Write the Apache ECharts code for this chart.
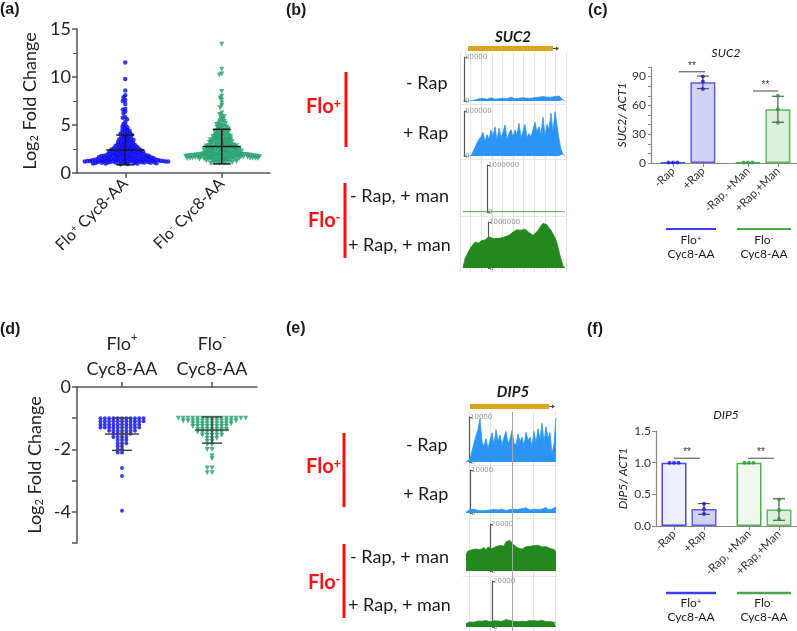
<!DOCTYPE html>
<html>
<head>
<meta charset="utf-8">
<script src="https://cdn.jsdelivr.net/npm/echarts@6.0.0/dist/echarts.min.js"></script>
<style>
  html, body { margin: 0; padding: 0; background: #fff; }
  #chart { width: 797px; height: 631px; }
</style>
</head>
<body>
<div id="chart"></div>
<script>
  // ---- data ----
  const strainNames = ['Flo+ Cyc8-AA', 'Flo- Cyc8-AA'];

  // (a) up-regulated genes, log2 fold change
  const upFloPlus = [0.92,0.95,0.98,1.0,1.0,1.02,1.03,1.05,1.05,1.07,1.08,1.1,1.1,1.11,1.12,1.13,1.15,1.15,1.16,1.18,1.18,1.2,1.2,1.21,1.22,1.23,1.25,1.25,1.26,1.27,1.28,1.3,1.3,1.31,1.32,1.33,1.34,1.35,1.36,1.37,1.38,1.39,1.4,1.4,1.41,1.42,1.43,1.44,1.45,1.46,1.47,1.48,1.49,1.5,1.1,1.2,1.3,1.15,1.25,1.35,
    1.52,1.54,1.55,1.57,1.58,1.6,1.61,1.63,1.65,1.66,1.68,1.7,1.71,1.73,1.75,1.76,1.78,1.8,1.81,1.83,1.85,1.86,1.88,1.9,1.91,1.93,1.95,1.96,1.98,2.0,1.6,1.7,1.8,1.9,1.65,
    2.02,2.04,2.06,2.08,2.1,2.12,2.14,2.16,2.18,2.2,2.22,2.24,2.26,2.28,2.3,2.32,2.34,2.36,2.38,2.4,2.42,2.44,2.46,2.48,2.5,
    2.53,2.56,2.59,2.62,2.65,2.68,2.71,2.74,2.77,2.8,2.83,2.86,2.89,2.92,2.95,2.98,2.6,
    3.03,3.07,3.11,3.15,3.2,3.24,3.28,3.32,3.37,3.41,3.45,3.49,
    3.53,3.58,3.63,3.68,3.74,3.8,3.86,3.92,3.98,
    4.03,4.08,4.14,4.2,4.27,4.34,4.41,4.48,
    4.55,4.65,4.75,4.85,4.95,
    5.1,5.3,5.6,5.75,5.8,6.2,6.4,6.6,6.7,7.2,7.5,7.6,7.9,8.1,8.6,9.8,11.5];
  const upFloMinus = [1.0,1.02,1.05,1.08,1.1,1.12,1.15,1.18,1.2,1.22,1.25,1.27,1.3,1.32,1.34,1.36,1.38,1.4,1.42,1.44,1.45,1.46,1.47,1.48,1.49,
    1.5,1.51,1.52,1.53,1.54,1.55,1.56,1.57,1.58,1.59,1.6,1.61,1.62,1.63,1.64,1.65,1.66,1.67,1.68,1.69,1.7,1.71,1.72,1.73,1.74,1.75,1.76,1.77,1.78,1.79,1.8,1.81,1.82,1.83,1.84,1.85,1.86,1.87,1.88,1.89,1.9,1.91,1.92,1.93,1.94,1.95,1.96,1.97,1.98,1.99,1.55,1.65,1.75,1.85,1.95,
    2.02,2.04,2.05,2.07,2.09,2.11,2.13,2.15,2.17,2.19,2.2,2.22,2.24,2.26,2.28,2.3,2.32,2.34,2.35,2.37,2.39,2.41,2.43,2.44,2.46,2.47,2.49,2.5,
    2.52,2.55,2.57,2.6,2.62,2.64,2.66,2.68,2.7,2.72,2.75,2.77,2.8,2.82,2.84,2.86,2.88,2.9,2.92,2.94,2.96,2.99,
    3.02,3.05,3.08,3.11,3.14,3.17,3.2,3.23,3.26,3.29,3.32,3.35,3.38,3.41,3.44,3.46,3.48,3.5,
    3.54,3.58,3.61,3.65,3.68,3.72,3.75,3.79,3.82,3.86,3.89,3.93,3.96,3.99,
    4.04,4.09,4.14,4.19,4.24,4.29,4.34,4.39,4.44,4.49,
    4.55,4.61,4.67,4.73,4.79,4.85,4.91,4.97,
    5.05,5.12,5.2,5.28,5.36,5.45,5.6,5.7,5.85,5.95,6.1,6.25,
    6.8,7.0,7.3,7.6,7.8,8.0,8.5,10.2,10.3,10.8,13.4];
  const upMean = [2.4, 2.75];
  const upSd = [1.55, 1.8];

  // (d) down-regulated genes
  const downFloPlus = [-1,-1,-1,-1,-1,-1,-1,-1,-1,-1,-1,
    -1.1,-1.1,-1.1,-1.1,-1.1,-1.1,-1.1,-1.1,-1.1,-1.1,-1.1,
    -1.2,-1.2,-1.2,-1.2,-1.2,-1.2,-1.2,-1.2,-1.2,-1.2,
    -1.3,-1.3,-1.3,-1.3,-1.3,-1.3,-1.3,-1.3,-1.3,-1.3,
    -1.4,-1.4,-1.4,-1.4,-1.4,-1.4,-1.4,
    -1.5,-1.5,-1.5,-1.5,-1.5,-1.6,-1.6,-1.6,-1.6,-1.7,-1.7,-1.7,-1.8,-1.8,-1.8,
    -1.9,-1.9,-2.0,-2.0,-2.1,-2.1,-2.6,-2.85,-3.97];
  const downFloMinus = [-1,-1,-1,-1,-1,-1,-1,-1,-1,-1,-1,-1,-1,-1,-1,
    -1.09,-1.09,-1.09,-1.09,-1.09,-1.09,-1.09,-1.09,-1.09,-1.09,-1.09,-1.09,
    -1.18,-1.18,-1.18,-1.18,-1.18,-1.18,-1.18,-1.18,-1.18,
    -1.27,-1.27,-1.27,-1.27,-1.27,-1.27,-1.27,-1.27,
    -1.36,-1.36,-1.36,-1.36,-1.36,-1.36,-1.36,
    -1.45,-1.45,-1.45,-1.45,-1.45,-1.45,-1.55,-1.55,-1.55,-1.55,-1.55,
    -1.65,-1.65,-1.65,-1.75,-1.75,-1.85,-1.85,-2.0,-2.0,-2.2,-2.3,-2.6,-2.6,-2.75,-2.75];
  const downMean = [-1.51, -1.38];
  const downSd = [0.52, 0.42];

  // (b) SUC2 coverage tracks, thousands of reads, 2 px bins
  const sucRap0 = [0,0,0,0,0,1,2,3,4,3,5,4,3,5,6,4,3,5,4,6,5,3,4,5,7,5,4,6,5,4,6,7,5,6,5,7,6,5,7,6,8,6,7,9,7,6,8,10,9,6,2,0];
  const sucRap1 = [0,0,0,0,0,0,150,230,300,340,420,260,380,300,460,350,520,280,490,330,420,550,300,400,470,330,460,380,580,320,440,560,330,400,340,470,600,430,520,380,690,350,560,480,760,420,790,780,300,120,30,0];
  const sucManRap0 = [3,4,4,3,4,4,3,4,4,3,4,4,3,4,4,3,4,4,3,4,4,3,4,4,3,4,4,3,4,4,3,4,4,3,4,4,3,4,4,3,4,4,3,4,4,3,4,4,3,4,4,3];
  const sucManRap1 = [0,200,290,380,450,510,560,550,540,590,600,610,650,680,650,640,660,640,630,650,660,680,680,710,740,780,800,830,840,820,830,840,800,770,730,710,740,790,850,920,970,990,940,870,820,740,660,540,360,190,50,0];
  const sucScales = [80, 800, 1000, 1000];

  // (e) DIP5 coverage tracks, thousands of reads
  const dipRap0 = [0,0.1,0.6,2.5,4.2,5.8,7.2,9.6,4.5,3.5,5.2,3.0,4.8,6.5,3.8,7.2,4.5,6.0,3.8,5.5,6.8,4.0,5.2,7.0,4.3,3.8,6.2,4.5,5.5,3.6,6.6,4.8,5.5,3.5,6.8,4.2,7.4,5.0,8.6,4.5,7.8,5.2,6.5,1.8,4.0,9.8];
  const dipRap1 = [0.2,0.4,0.8,1.1,0.9,0.5,0.6,0.7,0.5,0.8,0.6,0.9,0.7,0.5,0.8,1.0,0.7,0.6,0.9,0.8,0.6,1.0,0.8,0.7,0.9,1.1,0.8,0.7,1.0,0.9,1.2,0.8,0.7,1.0,0.9,1.1,0.8,1.2,0.9,1.0,1.3,0.8,1.1,0.9,0.7,1.4];
  const dipManRap0 = [7.0,8.5,9.2,9.0,8.8,9.4,8.7,9.0,9.3,10.0,9.0,10.2,11.0,9.5,9.8,10.4,9.6,10.8,11.4,10.6,12.5,12.0,13.0,12.4,11.0,10.2,9.8,9.0,9.3,9.8,10.3,10.0,10.5,10.2,10.8,10.4,11.0,10.6,10.2,10.8,10.4,10.0,9.6,9.8,9.2,8.0];
  const dipManRap1 = [1.5,2.0,2.2,2.4,2.1,2.3,2.6,2.2,2.5,2.4,2.8,2.6,2.3,2.5,2.7,2.4,2.6,2.9,2.5,2.7,3.2,3.0,2.8,2.6,2.5,2.4,2.3,2.6,2.5,2.7,2.4,2.6,2.8,2.5,2.7,2.4,2.6,2.5,2.8,2.6,2.4,2.5,2.3,2.2,2.1,1.8];
  const dipScales = [10, 10, 20, 20];

  // (c) / (f) qPCR
  const qpcrLabels = ['-Rap', '+Rap', '-Rap, +Man', '+Rap,+Man'];
  const qpcrPos = [1, 2, 3.5, 4.5];
  const suc2Mean = [0.6, 84, 0.6, 56];
  const suc2Sd = [0, 6.5, 0, 13.5];
  const suc2Reps = [[0.6, 0.6, 0.6], [77, 85, 90], [0.6, 0.6, 0.6], [42, 56, 70]];
  const suc2Sig = [[1.2, 2.07, 95], [3.67, 4.5, 75]];
  const dip5Mean = [1.0, 0.27, 1.0, 0.26];
  const dip5Sd = [0, 0.085, 0, 0.17];
  const dip5Reps = [[1, 1, 1], [0.35, 0.27, 0.19], [1, 1, 1], [0.42, 0.25, 0.11]];
  const dip5Sig = [[1.0, 1.87, 1.07], [3.47, 4.33, 1.07]];

  // ---- helpers ----
  const FONT = 'Lato, "Open Sans", sans-serif';
  const BLUE = '#0b0bf2';
  const GREEN = '#1f9e6c';
  const TRACK_BLUE = '#2b94f5';
  const TRACK_GREEN = '#23891f';
  const AXIS = '#555';

  // simple beeswarm: x offsets in px for each value
  function swarm(values, pxPerUnit, diam) {
    const order = values.map((v, i) => i).sort((a, b) => values[b] - values[a]);
    const placed = [];
    const offs = new Array(values.length);
    order.forEach(i => {
      const y = values[i] * pxPerUnit;
      const blocks = [];
      placed.forEach(p => {
        const dy = Math.abs(p.y - y);
        if (dy < diam) {
          const w = Math.sqrt(diam * diam - dy * dy);
          blocks.push([p.x - w, p.x + w]);
        }
      });
      const cands = [0];
      blocks.forEach(b => cands.push(b[0], b[1]));
      cands.sort((a, b) => Math.abs(a) - Math.abs(b));
      let x = 0;
      for (const c of cands) {
        if (blocks.every(b => c <= b[0] + 1e-6 || c >= b[1] - 1e-6)) { x = c; break; }
      }
      placed.push({ x, y });
      offs[i] = x;
    });
    return offs;
  }

  const supFmt = v => v.replace(/^Flo([+-])/, 'Flo{sup|$1}');

  function meanSd(halfMean, halfCap, color, width) {
    return (params, api) => {
      const x = api.value(0), m = api.value(1), s = api.value(2);
      const c = api.coord([x, m]);
      const top = api.coord([x, m + s]);
      const bot = api.coord([x, m - s]);
      const st = { stroke: color, lineWidth: width };
      const kids = [
        { type: 'line', shape: { x1: c[0], y1: top[1], x2: c[0], y2: bot[1] }, style: st },
        { type: 'line', shape: { x1: c[0] - halfCap, y1: top[1], x2: c[0] + halfCap, y2: top[1] }, style: st },
        { type: 'line', shape: { x1: c[0] - halfCap, y1: bot[1], x2: c[0] + halfCap, y2: bot[1] }, style: st }
      ];
      if (halfMean > 0) kids.push({ type: 'line', shape: { x1: c[0] - halfMean, y1: c[1], x2: c[0] + halfMean, y2: c[1] }, style: st });
      return { type: 'group', children: s > 0 || halfMean > 0 ? kids : [] };
    };
  }

  function sigItem(params, api) {
    const a = api.coord([api.value(0), api.value(2)]);
    const b = api.coord([api.value(1), api.value(2)]);
    return { type: 'group', children: [
      { type: 'line', shape: { x1: a[0], y1: a[1], x2: b[0], y2: b[1] }, style: { stroke: '#444', lineWidth: 1 } },
      { type: 'text', x: (a[0] + b[0]) / 2, y: a[1] - 1, style: { text: '**', fontSize: 10, fill: '#333', align: 'center', verticalAlign: 'bottom', font: '10px ' + FONT } }
    ] };
  }

  // ---- layout of grids ----
  const grids = [
    { left: 77, top: 29, width: 193, height: 144 },   // 0 a
    { left: 77, top: 387, width: 180, height: 156 },  // 1 d
    { left: 651, top: 67, width: 147, height: 96 },   // 2 c
    { left: 656, top: 431, width: 141, height: 95 },  // 3 f
    { left: 463, top: 57, width: 104, height: 44 },   // 4 b tracks
    { left: 463, top: 111, width: 104, height: 45 },
    { left: 463, top: 165, width: 104, height: 47 },
    { left: 463, top: 222, width: 104, height: 46 },
    { left: 466, top: 417, width: 92, height: 45 },   // 8 e tracks
    { left: 466, top: 470, width: 92, height: 43 },
    { left: 466, top: 524, width: 92, height: 47 },
    { left: 466, top: 581, width: 92, height: 46 },
    { left: 460, top: 53, width: 106, height: 219 },  // 12 b background
    { left: 469, top: 412, width: 86, height: 219 }   // 13 e background
  ];

  const axisLine = { show: true, lineStyle: { color: AXIS, width: 1.5 } };
  const xAxes = [];
  const yAxes = [];

  // a
  xAxes.push({ gridIndex: 0, type: 'value', position: 'top', min: 0, max: 2, show: false });
  yAxes.push({ gridIndex: 0, type: 'value', min: 0, max: 15, interval: 5,
    axisLine, axisTick: { show: true, length: 5, lineStyle: { color: AXIS, width: 1.5 } },
    minorTick: { show: true, splitNumber: 2, length: 4, lineStyle: { color: AXIS, width: 1 } },
    splitLine: { show: false },
    axisLabel: { fontSize: 18, color: '#222', fontFamily: FONT, margin: 6 },
    name: 'Log{sub|2} Fold Change', nameLocation: 'middle', nameGap: 37,
    nameTextStyle: { fontSize: 18, color: '#222', fontFamily: FONT,
      rich: { sub: { fontSize: 11, verticalAlign: 'bottom', fontFamily: FONT, color: '#222', padding: [8, 0, 0, 0] } } } });
  // d
  xAxes.push({ gridIndex: 1, type: 'value', position: 'bottom', min: 0, max: 2, show: false });
  yAxes.push({ gridIndex: 1, type: 'value', min: -5, max: 0, interval: 1,
    axisLine, axisTick: { show: true, length: 5, lineStyle: { color: AXIS, width: 1.5 } },
    splitLine: { show: false },
    axisLabel: { fontSize: 18, color: '#222', fontFamily: FONT, margin: 6, formatter: v => (v % 2 === 0 ? String(v) : '') },
    name: 'Log{sub|2} Fold Change', nameLocation: 'middle', nameGap: 32,
    nameTextStyle: { fontSize: 18, color: '#222', fontFamily: FONT,
      rich: { sub: { fontSize: 11, verticalAlign: 'bottom', fontFamily: FONT, color: '#222', padding: [8, 0, 0, 0] } } } });
  // c and f
  const qpcrX = (min, max) => ({ type: 'value', min, max,
    axisLine: { show: true, lineStyle: { color: '#888', width: 1.2 } },
    axisTick: { show: true, customValues: qpcrPos, length: 4, lineStyle: { color: '#888' } },
    splitLine: { show: false },
    axisLabel: { customValues: qpcrPos, rotate: 45, fontSize: 11.5, color: '#333', fontFamily: FONT, margin: 6,
      formatter: v => qpcrLabels[qpcrPos.indexOf(v)] || '' } });
  xAxes.push(Object.assign({ gridIndex: 2 }, qpcrX(0.27, 5.17)));
  yAxes.push({ gridIndex: 2, type: 'value', min: 0, max: 100, interval: 10,
    axisLine: { show: true, lineStyle: { color: '#888', width: 1.2 } },
    axisTick: { show: true, length: 3, lineStyle: { color: '#888' } },
    splitLine: { show: false },
    axisLabel: { fontSize: 12, color: '#333', fontFamily: FONT, margin: 5, formatter: v => (v % 30 === 0 ? String(v) : '') },
    name: 'SUC2/ ACT1', nameLocation: 'middle', nameGap: 22,
    nameTextStyle: { fontSize: 12, fontStyle: 'italic', color: '#222', fontFamily: FONT } });
  xAxes.push(Object.assign({ gridIndex: 3 }, qpcrX(0.4, 5.1)));
  yAxes.push({ gridIndex: 3, type: 'value', min: 0, max: 1.5, interval: 0.5,
    axisLine: { show: true, lineStyle: { color: '#888', width: 1.2 } },
    axisTick: { show: true, length: 4, lineStyle: { color: '#888' } },
    splitLine: { show: false },
    axisLabel: { fontSize: 12, color: '#333', fontFamily: FONT, margin: 5, formatter: v => v.toFixed(1) },
    name: 'DIP5/ ACT1', nameLocation: 'middle', nameGap: 27,
    nameTextStyle: { fontSize: 12, fontStyle: 'italic', color: '#222', fontFamily: FONT } });

  // tracks
  const trackAxisY = (gi, maxK, offset) => ({ gridIndex: gi, type: 'value', min: 0, max: maxK, interval: maxK, offset,
    axisLine: { show: true, lineStyle: { color: '#555', width: 1.2 } },
    axisTick: { show: true, inside: true, length: 3, lineStyle: { color: '#555' } },
    splitLine: { show: false },
    axisLabel: { inside: true, margin: 1, fontSize: 7, color: '#999', fontFamily: 'DejaVu Sans', formatter: v => String(Math.round(v * 1000)) } });
  const sucOffsets = [-1, -1, -24, -25];
  const dipOffsets = [-3, -4, -24, -26];
  for (let k = 0; k < 4; k++) {
    xAxes.push({ gridIndex: 4 + k, type: 'value', min: 0, max: 52, show: false });
    yAxes.push(trackAxisY(4 + k, sucScales[k], sucOffsets[k]));
  }
  for (let k = 0; k < 4; k++) {
    xAxes.push({ gridIndex: 8 + k, type: 'value', min: 0, max: 46, show: false });
    yAxes.push(trackAxisY(8 + k, dipScales[k], dipOffsets[k]));
  }
  // backgrounds
  const bgX = (gi, max, colors) => ({ gridIndex: gi, type: 'value', min: 0, max, interval: 1,
    axisLine: { show: false }, axisTick: { show: false }, axisLabel: { show: false },
    splitLine: { show: true, lineStyle: { color: colors, width: 1 } } });
  xAxes.push(bgX(12, 10, '#e3e3e3'));
  yAxes.push({ gridIndex: 12, type: 'value', min: 0, max: 1, show: false });
  xAxes.push(bgX(13, 4, '#e3e3e3'));
  yAxes.push({ gridIndex: 13, type: 'value', min: 0, max: 1, show: false });
  // 14: category axis for a
  xAxes.push({ gridIndex: 0, type: 'category', position: 'bottom', data: strainNames, boundaryGap: true,
    axisLine, axisTick: { show: true, alignWithLabel: true, length: 5, lineStyle: { color: AXIS, width: 1.5 } },
    axisLabel: { interval: 0, rotate: 45, fontSize: 16, color: '#222', fontFamily: FONT, margin: 8, formatter: supFmt,
      rich: { sup: { fontSize: 10, verticalAlign: 'top', fontFamily: FONT, color: '#222' } } } });
  // 15: category axis on top for d
  xAxes.push({ gridIndex: 1, type: 'category', position: 'top', data: strainNames, boundaryGap: true,
    axisLine, axisTick: { show: true, alignWithLabel: true, length: 5, lineStyle: { color: AXIS, width: 1.5 } },
    axisLabel: { interval: 0, fontSize: 18, color: '#222', fontFamily: FONT, margin: 5, lineHeight: 25, align: 'center',
      formatter: v => supFmt(v.replace(' ', '\n')),
      rich: { sup: { fontSize: 11, verticalAlign: 'top', fontFamily: FONT, color: '#222' } } } });
  // 16: darker gene-midline for e, drawn above tracks
  xAxes.push(Object.assign(bgX(13, 4, ['rgba(0,0,0,0)', 'rgba(0,0,0,0)', '#a8a8a8', 'rgba(0,0,0,0)', 'rgba(0,0,0,0)']), { z: 10, position: 'top' }));

  // ---- series ----
  const series = [];
  const aPxX = grids[0].width / 2, aPxY = grids[0].height / 15;
  [[upFloPlus, BLUE, 'circle', 4.5], [upFloMinus, GREEN, 'triangle', 5]].forEach(([vals, color, sym, size], g) => {
    const offs = swarm(vals, aPxY, 2.6);
    series.push({ type: 'scatter', xAxisIndex: 0, yAxisIndex: 0, symbol: sym, symbolRotate: sym === 'triangle' ? 180 : 0,
      symbolSize: size, itemStyle: { color }, silent: true,
      data: vals.map((v, i) => [g + 0.5 + offs[i] / aPxX, v]) });
  });
  series.push({ type: 'custom', xAxisIndex: 0, yAxisIndex: 0, z: 5, silent: true,
    renderItem: meanSd(19, 9, '#1a1a1a', 1.5),
    data: upMean.map((m, g) => [g + 0.5, m, upSd[g]]) });

  // rows in (d) are stacked flat, so the swarm uses a stretched vertical scale
  const dPxX = grids[1].width / 2, dRowScale = 60;
  [[downFloPlus, BLUE, 'circle', 4, 4.3], [downFloMinus, GREEN, 'triangle', 5, 4.8]].forEach(([vals, color, sym, size, diam], g) => {
    const offs = swarm(vals.map(v => -v), dRowScale, diam);
    series.push({ type: 'scatter', xAxisIndex: 1, yAxisIndex: 1, symbol: sym, symbolRotate: sym === 'triangle' ? 180 : 0,
      symbolSize: size, itemStyle: { color }, silent: true,
      data: vals.map((v, i) => [g + 0.5 + offs[i] / dPxX, v]) });
  });
  series.push({ type: 'custom', xAxisIndex: 1, yAxisIndex: 1, z: 5, silent: true,
    renderItem: meanSd(17, 10, '#444', 1.5),
    data: downMean.map((m, g) => [g + 0.5, m, downSd[g]]) });

  // qPCR bars
  const barFill = ['#eeeefc', '#d2d2f6', '#eef8ee', '#dcf1dc'];
  const barEdge = ['#4747ee', '#5b5bee', '#4fae4f', '#62b862'];
  const dotColor = ['#1a1ae6', '#1a1ae6', '#2c9a2c', '#2c9a2c'];
  [[2, suc2Mean, suc2Sd, suc2Reps, suc2Sig, grids[2].height / 100],
   [3, dip5Mean, dip5Sd, dip5Reps, dip5Sig, grids[3].height / 1.5]].forEach(([gi, means, sds, reps, sig, pxY]) => {
    series.push({ type: 'bar', xAxisIndex: gi, yAxisIndex: gi, barWidth: 25, silent: true,
      data: means.map((m, k) => ({ value: [qpcrPos[k], m],
        itemStyle: { color: barFill[k], borderColor: barEdge[k], borderWidth: 1.5 } })) });
    series.push({ type: 'custom', xAxisIndex: gi, yAxisIndex: gi, z: 4, silent: true,
      renderItem: meanSd(0, 6, '#555', 1.2),
      data: means.map((m, k) => [qpcrPos[k], m, sds[k]]) });
    reps.forEach((r, k) => {
      const offs = swarm(r, pxY, 4.5);
      series.push({ type: 'scatter', xAxisIndex: gi, yAxisIndex: gi, symbolSize: 4, z: 5, silent: true,
        itemStyle: { color: dotColor[k] },
        data: r.map((v, i) => [qpcrPos[k] + offs[i] / 30, v]) });
    });
    series.push({ type: 'custom', xAxisIndex: gi, yAxisIndex: gi, z: 5, silent: true, renderItem: sigItem, data: sig });
  });

  // coverage tracks
  function track(vals, gi, color) {
    return { type: 'line', xAxisIndex: gi, yAxisIndex: gi, data: vals.map((v, i) => [i, v]),
      showSymbol: false, symbol: 'none', silent: true, z: 3,
      lineStyle: { width: 0.8, color }, itemStyle: { color }, areaStyle: { color, opacity: 1 } };
  }
  [sucRap0, sucRap1].forEach((t, k) => series.push(track(t, 4 + k, TRACK_BLUE)));
  [sucManRap0, sucManRap1].forEach((t, k) => series.push(track(t, 6 + k, TRACK_GREEN)));
  [dipRap0, dipRap1].forEach((t, k) => series.push(track(t, 8 + k, TRACK_BLUE)));
  [dipManRap0, dipManRap1].forEach((t, k) => series.push(track(t, 10 + k, TRACK_GREEN)));

  // ---- text and annotation shapes ----
  const txt = (x, y, text, size, extra) => Object.assign({ type: 'text', x, y, silent: true,
    style: Object.assign({ text, fontSize: size, fontFamily: FONT, fill: '#1a1a1a', align: 'left', verticalAlign: 'middle' }, extra || {}) });
  const line = (x1, y1, x2, y2, stroke, w) => ({ type: 'line', silent: true, shape: { x1, y1, x2, y2 }, style: { stroke, lineWidth: w } });
  const floText = (x, y, sign) => ({ type: 'text', x, y, silent: true, style: {
    text: '{m|Flo}{s|' + sign + '}', verticalAlign: 'middle',
    rich: { m: { fontSize: 20, fontWeight: 'bold', fill: '#ff1010', fontFamily: FONT },
            s: { fontSize: 13, fontWeight: 'bold', fill: '#ff1010', fontFamily: FONT, verticalAlign: 'top' } } } });
  const panelLetter = (x, y, t) => txt(x, y, t, 16, { fontWeight: 'bold', fontFamily: '"Liberation Sans", Arial, sans-serif' });

  const graphic = [
    panelLetter(0, 10, '(a)'), panelLetter(286, 11, '(b)'), panelLetter(588, 11, '(c)'),
    panelLetter(0, 330, '(d)'), panelLetter(286, 329, '(e)'), panelLetter(587, 330, '(f)'),
    // panel b
    txt(513, 37, 'SUC2', 15, { fontWeight: 'bold', fontStyle: 'italic', align: 'center' }),
    { type: 'rect', silent: true, shape: { x: 468, y: 46, width: 85, height: 5 }, style: { fill: '#dba41f' } },
    line(553, 48.5, 556, 48.5, '#444', 1),
    { type: 'polygon', silent: true, shape: { points: [[556, 46.5], [559, 48.5], [556, 50.5]] }, style: { fill: '#444' } },
    line(460, 104.5, 567, 104.5, '#e8e8e8', 1), line(460, 159.5, 567, 159.5, '#e8e8e8', 1), line(460, 216.5, 567, 216.5, '#e8e8e8', 1),
    txt(406, 83, '- Rap', 18), txt(403, 133, '+ Rap', 18),
    txt(350, 196, '- Rap, + man', 18), txt(348, 245, '+ Rap, + man', 18),
    floText(306, 107, '+'), floText(308, 221, '-'),
    line(346, 72, 346, 147, '#ff1010', 3), line(345, 183, 345, 258, '#ff1010', 3),
    // panel e
    txt(513, 392, 'DIP5', 15, { fontWeight: 'bold', fontStyle: 'italic', align: 'center' }),
    { type: 'rect', silent: true, shape: { x: 470, y: 404, width: 79, height: 5 }, style: { fill: '#dba41f' } },
    line(549, 406.5, 552, 406.5, '#444', 1),
    { type: 'polygon', silent: true, shape: { points: [[552, 404.5], [555, 406.5], [552, 408.5]] }, style: { fill: '#444' } },
    line(463, 465.5, 558, 465.5, '#e8e8e8', 1), line(463, 518.5, 558, 518.5, '#e8e8e8', 1), line(463, 576.5, 558, 576.5, '#e8e8e8', 1),
    txt(406, 445, '- Rap', 18), txt(403, 494, '+ Rap', 18),
    txt(350, 557, '- Rap, + man', 18), txt(348, 605, '+ Rap, + man', 18),
    floText(306, 467, '+'), floText(308, 583, '-'),
    line(344, 433, 344, 507, '#ff1010', 3), line(344, 544, 344, 618, '#ff1010', 3),
    // panel c
    txt(726, 53, 'SUC2', 12, { fontStyle: 'italic', align: 'center' }),
    line(666, 229, 716, 229, '#3c3cf0', 2), line(737, 229, 791, 229, '#4aa84a', 2),
    // panel f
    txt(726, 415, 'DIP5', 12, { fontStyle: 'italic', align: 'center' }),
    line(666, 593, 716, 593, '#3c3cf0', 2.5), line(737, 593, 791, 593, '#4aa84a', 2.5)
  ];
  const groupLabel = (cx, y1, sign) => [
    { type: 'text', x: cx, y: y1, silent: true, style: { text: '{m|Flo}{s|' + sign + '}', align: 'center', verticalAlign: 'middle',
      rich: { m: { fontSize: 12, fill: '#222', fontFamily: FONT }, s: { fontSize: 8, fill: '#222', fontFamily: FONT, verticalAlign: 'top' } } } },
    txt(cx, y1 + 14, 'Cyc8-AA', 12, { align: 'center' })
  ];
  graphic.push(...groupLabel(691, 240, '+'), ...groupLabel(764, 240, '-'),
               ...groupLabel(691, 603, '+'), ...groupLabel(764, 603, '-'));

  const chart = echarts.init(document.getElementById('chart'), null, { renderer: 'canvas' });
  chart.setOption({
    animation: false,
    backgroundColor: '#fff',
    grid: grids.map(g => Object.assign({ containLabel: false, outerBoundsMode: 'none' }, g)),
    xAxis: xAxes,
    yAxis: yAxes,
    series,
    graphic: { elements: graphic }
  });
</script>
</body>
</html>
